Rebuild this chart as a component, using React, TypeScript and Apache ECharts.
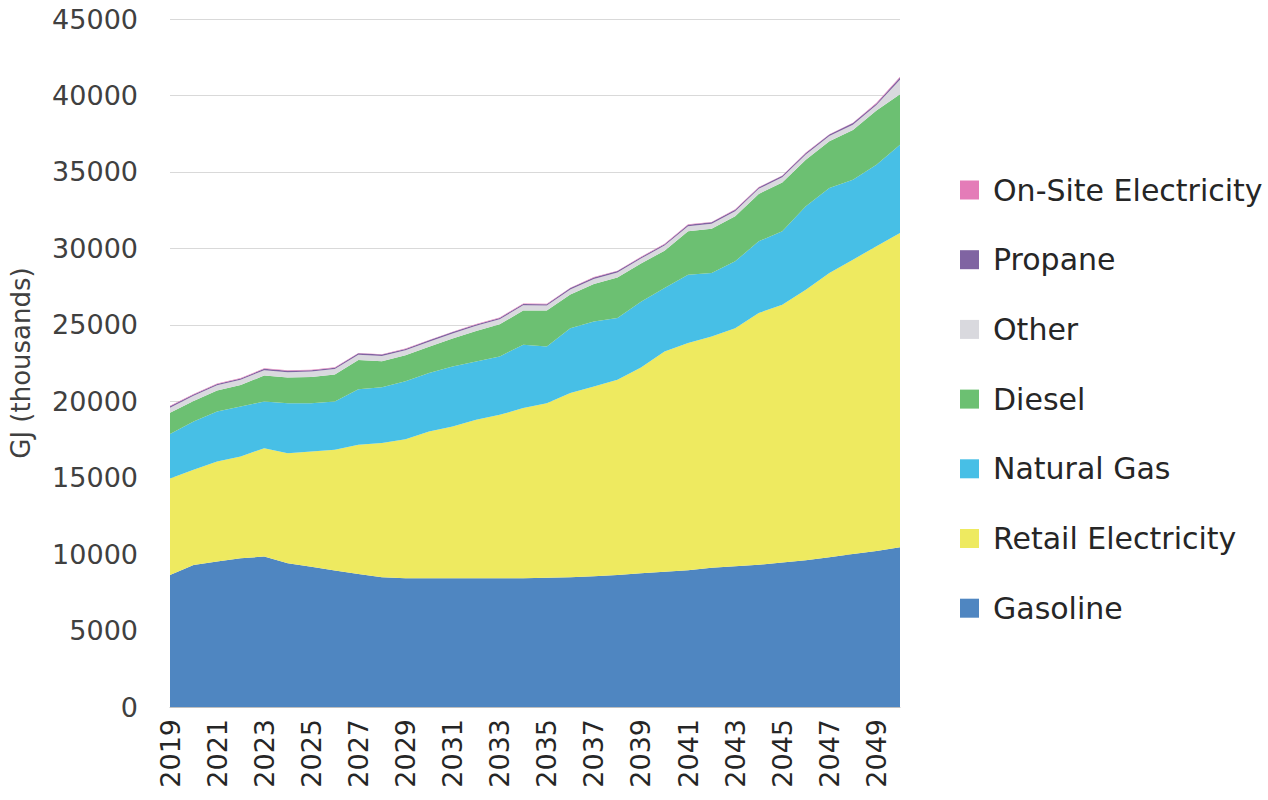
import React, { useEffect, useRef } from "react";
import * as echarts from "echarts";

const years: string[] = [];
for (let y = 2019; y <= 2050; y++) years.push(String(y));

const gasoline = [8640, 9290, 9510, 9730, 9840, 9400, 9180, 8920, 8700, 8480, 8420, 8420, 8420, 8420, 8420, 8420, 8450, 8480, 8550, 8640, 8750, 8850, 8950, 9100, 9200, 9300, 9450, 9600, 9800, 10000, 10200, 10450];
const retailElectricity = [6310, 6220, 6550, 6650, 7090, 7200, 7530, 7900, 8450, 8780, 9100, 9600, 9930, 10360, 10690, 11130, 11420, 12050, 12420, 12760, 13450, 14410, 14850, 15140, 15580, 16470, 16860, 17690, 18580, 19260, 19930, 20550];
const naturalGas = [2900, 3160, 3270, 3280, 3050, 3270, 3160, 3160, 3640, 3660, 3780, 3820, 3920, 3820, 3820, 4140, 3710, 4250, 4250, 4040, 4300, 4140, 4470, 4140, 4370, 4690, 4800, 5460, 5570, 5230, 5340, 5780];
const diesel = [1400, 1350, 1370, 1400, 1700, 1680, 1720, 1770, 1900, 1700, 1700, 1720, 1830, 2000, 2100, 2250, 2350, 2200, 2450, 2650, 2500, 2450, 2850, 2900, 2950, 3100, 3200, 3050, 3050, 3250, 3550, 3300];
const other = [330, 330, 340, 340, 350, 350, 350, 350, 350, 340, 330, 330, 330, 330, 330, 330, 330, 330, 330, 330, 330, 330, 330, 330, 330, 330, 340, 340, 340, 350, 360, 950];
const propane = [90, 90, 90, 90, 90, 90, 90, 90, 90, 90, 90, 90, 90, 90, 90, 90, 90, 90, 90, 90, 90, 90, 90, 90, 90, 90, 90, 90, 100, 100, 100, 150];
const onSiteElectricity = [30, 30, 30, 30, 30, 30, 30, 30, 30, 30, 30, 30, 30, 30, 30, 30, 30, 30, 30, 30, 30, 30, 30, 30, 30, 30, 30, 30, 30, 30, 40, 50];

const seriesDefs = [
  { name: "Gasoline", data: gasoline, color: "#4F86C1" },
  { name: "Retail Electricity", data: retailElectricity, color: "#EEEA60" },
  { name: "Natural Gas", data: naturalGas, color: "#47BFE6" },
  { name: "Diesel", data: diesel, color: "#6CC072" },
  { name: "Other", data: other, color: "#D9D9DE" },
  { name: "Propane", data: propane, color: "#8064A2" },
  { name: "On-Site Electricity", data: onSiteElectricity, color: "#E47CB8" },
];

const legendOrder = ["On-Site Electricity", "Propane", "Other", "Diesel", "Natural Gas", "Retail Electricity", "Gasoline"];

const FONT = "'DejaVu Sans', 'Open Sans', sans-serif";

export default function App() {
  const ref = useRef<HTMLDivElement>(null);
  useEffect(() => {
    document.body.style.margin = "0";
    if (!ref.current) return;
    const chart = echarts.init(ref.current, undefined, { renderer: "svg" });
    chart.setOption({
      animation: false,
      backgroundColor: "#ffffff",
      textStyle: { fontFamily: FONT },
      grid: { left: 170, right: 368, top: 19, bottom: 93, containLabel: false },
      legend: {
        orient: "vertical",
        left: 955,
        top: 170,
        itemWidth: 19,
        itemHeight: 19,
        itemGap: 39.7,
        icon: "rect",
        data: legendOrder,
        textStyle: { fontSize: 30, color: "#262626", fontFamily: FONT, padding: [0, 0, 0, 9] },
      },
      xAxis: {
        type: "category",
        boundaryGap: false,
        data: years,
        axisLine: { show: true, lineStyle: { color: "#bfbfbf" } },
        axisTick: { show: false },
        axisLabel: {
          interval: 1,
          rotate: 90,
          fontSize: 27,
          color: "#262626",
          margin: 12,
          fontFamily: FONT,
        },
        splitLine: { show: false },
      },
      yAxis: {
        type: "value",
        min: 0,
        max: 45000,
        interval: 5000,
        name: "GJ (thousands)",
        nameLocation: "middle",
        nameGap: 136,
        nameTextStyle: { fontSize: 26, color: "#404040", fontFamily: FONT },
        axisLine: { show: false },
        axisTick: { show: false },
        axisLabel: {
          fontSize: 27,
          color: "#404040",
          margin: 32,
          fontFamily: FONT,
          formatter: (v: number) => String(v),
        },
        splitLine: { show: true, lineStyle: { color: "#d9d9d9", width: 1 } },
      },
      series: seriesDefs.map((s) => ({
        name: s.name,
        type: "line",
        stack: "total",
        data: s.data,
        symbol: "none",
        smooth: false,
        lineStyle: { width: 0, color: s.color },
        itemStyle: { color: s.color },
        areaStyle: { color: s.color, opacity: 1 },
        emphasis: { disabled: true },
      })),
    });
    return () => chart.dispose();
  }, []);
  return <div ref={ref} style={{ width: 1268, height: 800 }} />;
}
